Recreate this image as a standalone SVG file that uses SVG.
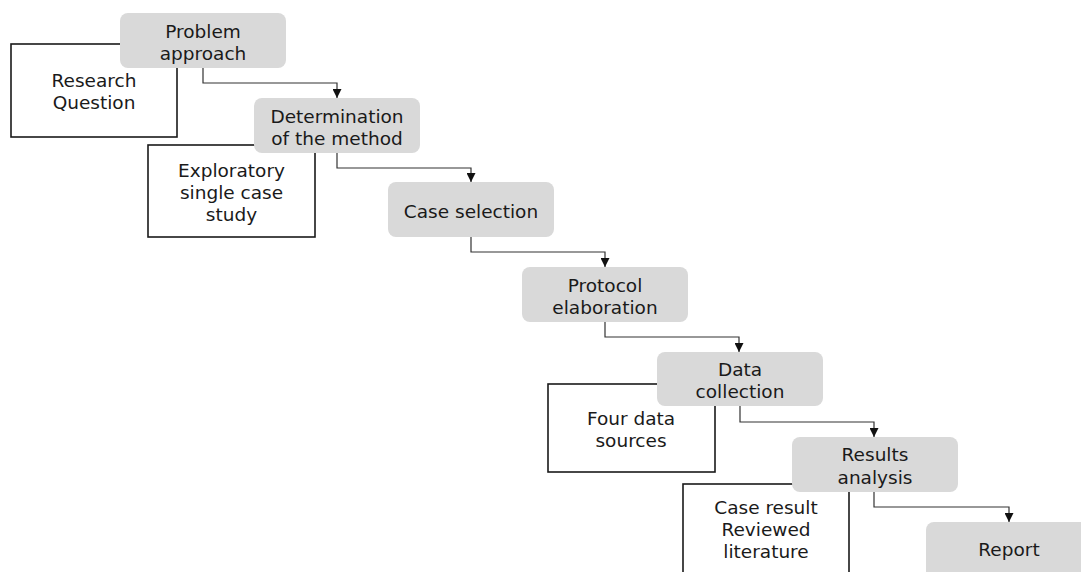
<svg xmlns="http://www.w3.org/2000/svg" width="1081" height="572" viewBox="0 0 1081 572">
<style>
.note{fill:#ffffff;stroke:#1a1a1a;stroke-width:1.6}
.step{fill:#d9d9d9;stroke:none}
text{font-family:"DejaVu Sans","Liberation Sans",sans-serif;font-size:18.5px;fill:#1a1a1a;text-anchor:middle}
.conn{fill:none;stroke:#333333;stroke-width:1.2}
</style>
<defs>
<marker id="arr" viewBox="0 0 10 10" refX="10" refY="5" markerWidth="9" markerHeight="9" markerUnits="userSpaceOnUse" orient="auto">
<path d="M0,0 L10,5 L0,10 Z" fill="#111"/>
</marker>
</defs>
<rect width="1081" height="572" fill="#ffffff"/>

<g id="note-research"><rect class="note" x="11" y="44" width="166" height="93"/><text x="94" y="87">Research</text><text x="94" y="109">Question</text></g>
<g id="note-exploratory"><rect class="note" x="148" y="145" width="167" height="92"/><text x="231.5" y="177">Exploratory</text><text x="231.5" y="199">single case</text><text x="231.5" y="221">study</text></g>
<g id="note-four"><rect class="note" x="548" y="384" width="167" height="88"/><text x="631" y="425">Four data</text><text x="631" y="447">sources</text></g>
<g id="note-case"><rect class="note" x="683" y="484" width="166" height="100"/><text x="766" y="514">Case result</text><text x="766" y="536">Reviewed</text><text x="766" y="558">literature</text></g>

<g id="connectors">
<path class="conn" d="M203,68 V83 H337 V98" marker-end="url(#arr)"/>
<path class="conn" d="M337,153 V168 H471 V182" marker-end="url(#arr)"/>
<path class="conn" d="M471,237 V252 H605 V267" marker-end="url(#arr)"/>
<path class="conn" d="M605,322 V337 H739 V352" marker-end="url(#arr)"/>
<path class="conn" d="M740,406 V422 H874 V437" marker-end="url(#arr)"/>
<path class="conn" d="M874,492 V507 H1009 V522" marker-end="url(#arr)"/>
</g>

<g id="step-problem"><rect class="step" x="120" y="13" width="166" height="55" rx="8"/><text x="203" y="38">Problem</text><text x="203" y="60">approach</text></g>
<g id="step-determination"><rect class="step" x="254" y="98" width="166" height="55" rx="8"/><text x="337" y="123">Determination</text><text x="337" y="145">of the method</text></g>
<g id="step-case"><rect class="step" x="388" y="182" width="166" height="55" rx="8"/><text x="471" y="218">Case selection</text></g>
<g id="step-protocol"><rect class="step" x="522" y="267" width="166" height="55" rx="8"/><text x="605" y="292">Protocol</text><text x="605" y="314">elaboration</text></g>
<g id="step-data"><rect class="step" x="657" y="352" width="166" height="54" rx="8"/><text x="740" y="376">Data</text><text x="740" y="398">collection</text></g>
<g id="step-results"><rect class="step" x="792" y="437" width="166" height="55" rx="8"/><text x="875" y="461">Results</text><text x="875" y="484">analysis</text></g>
<g id="step-report"><rect class="step" x="926" y="522" width="166" height="60" rx="8"/><text x="1009" y="556">Report</text></g>
</svg>
